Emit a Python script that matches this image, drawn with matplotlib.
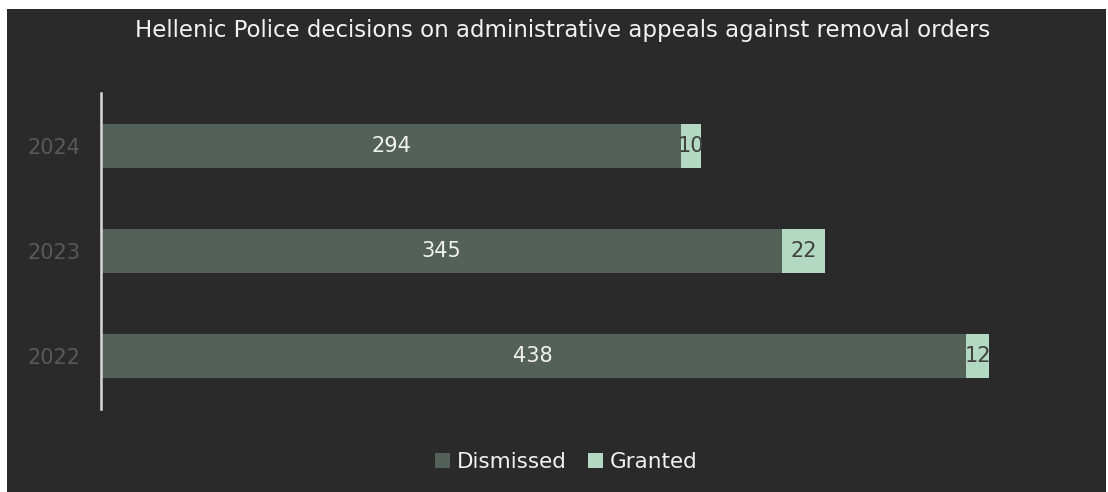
import matplotlib
matplotlib.use("Agg")
import matplotlib.pyplot as plt
from matplotlib.patches import Rectangle

years = ["2022", "2023", "2024"]
dismissed = [438, 345, 294]
granted = [12, 22, 10]

BG = "#2A2A2A"
C_DIS = "#546158"
C_GRA = "#B3D9C3"

plt.rcParams['font.family'] = ['DejaVu Sans']

fig = plt.figure(figsize=(11.08, 4.92), dpi=100, facecolor="white")
fig.patches.append(Rectangle((7/1108, 0), (1106-7)/1108, (492-9)/492,
                             transform=fig.transFigure, facecolor=BG,
                             edgecolor="none", zorder=-10))

ax = fig.add_axes([101/1108, 83/492, 987/1108, 316/492])
ax.set_facecolor("none")

ypos = list(range(len(years)))
h = 0.415
b1 = ax.barh(ypos, dismissed, height=h, color=C_DIS, label="Dismissed", zorder=2)
b2 = ax.barh(ypos, granted, left=dismissed, height=h, color=C_GRA, label="Granted", zorder=2)

ax.bar_label(b1, labels=[str(v) for v in dismissed], label_type="center",
             color="#F2F2F2", fontsize=15)
ax.bar_label(b2, labels=[str(v) for v in granted], label_type="center",
             color="#404040", fontsize=15)

ax.set_xlim(0, 500)
ax.set_ylim(-0.5, len(years) - 0.5)
ax.set_yticks(ypos)
ax.set_yticklabels(years, color="#595959", fontsize=15)
ax.tick_params(axis="y", length=0, pad=15)
ax.set_xticks([])
for s in ["top", "right", "bottom"]:
    ax.spines[s].set_visible(False)
ax.spines["left"].set_color("#D9D9D9")
ax.spines["left"].set_linewidth(1.8)
ax.spines["left"].set_zorder(3)

fig.text(563/1108, (492-30)/492,
         "Hellenic Police decisions on administrative appeals against removal orders",
         ha="center", va="center", color="#F2F2F2", fontsize=16.5)

leg = fig.legend(handles=[b1, b2], labels=["Dismissed", "Granted"],
                 loc="center", bbox_to_anchor=(566/1108, 30/492), ncol=2,
                 frameon=False, fontsize=15.5, labelcolor="#F2F2F2",
                 handlelength=0.7, handleheight=0.7, handletextpad=0.3,
                 columnspacing=1.0)

fig.savefig("out.png", dpi=100, facecolor="white")
